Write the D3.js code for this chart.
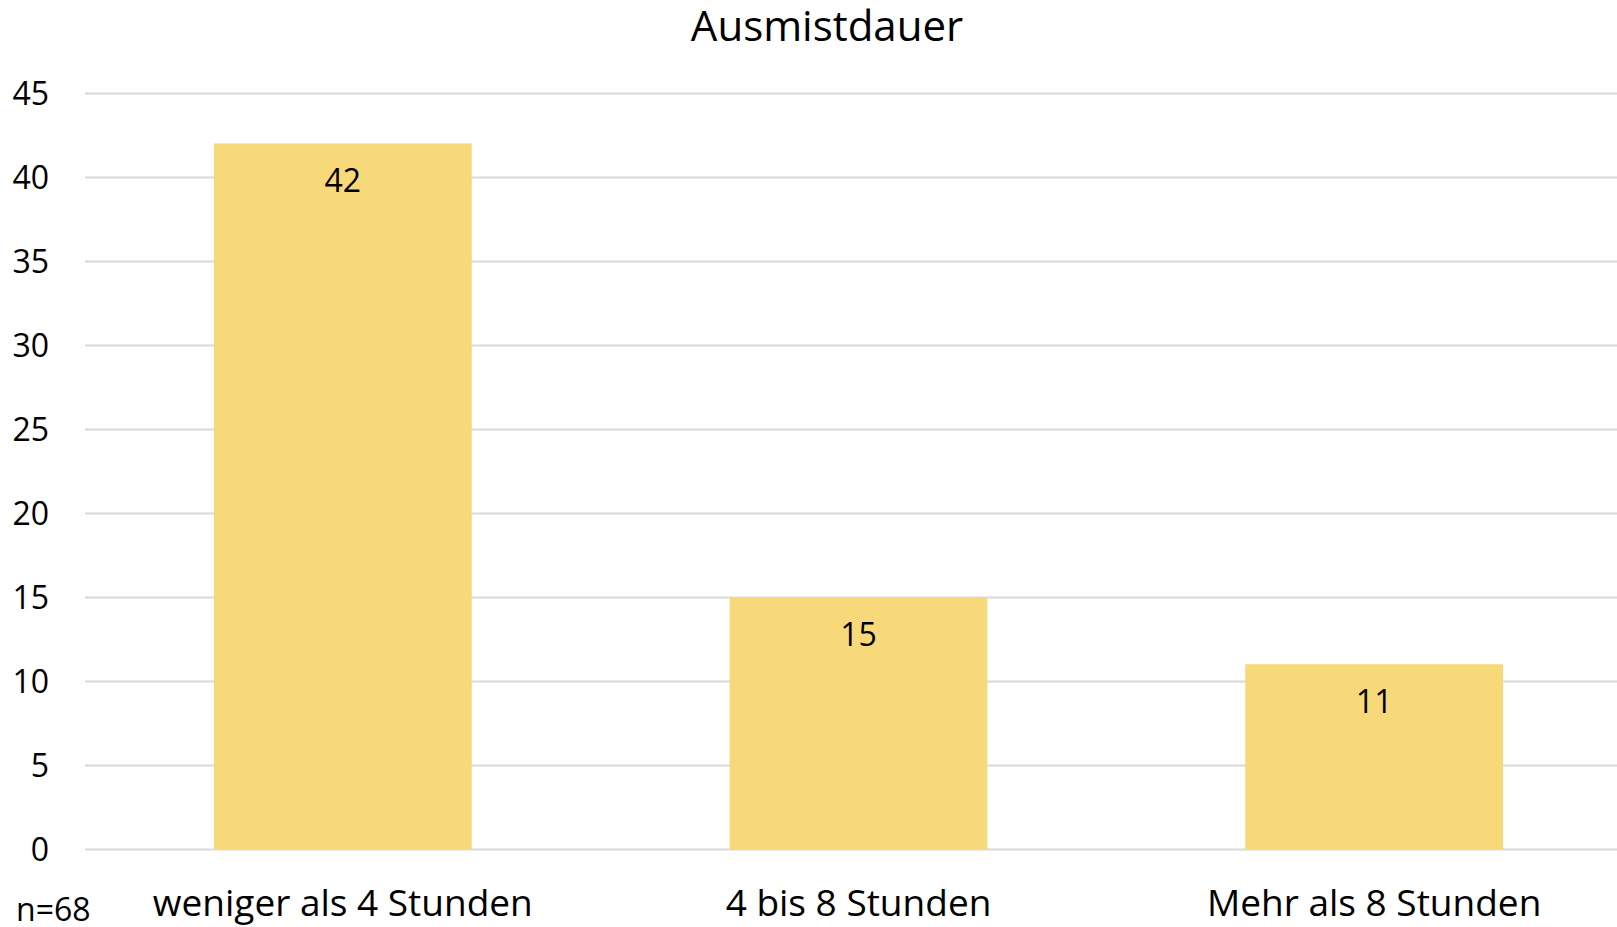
<!DOCTYPE html>
<html>
<head>
<meta charset="utf-8">
<script src="https://cdn.jsdelivr.net/npm/d3@7"></script>
<style>
	body { margin: 0; background: #fff; }
	svg text { font-family: 'Open Sans', sans-serif; fill: #000; }
	.grid line { stroke: #d9d9d9; stroke-width: 2; }
	.grid .domain { display: none; }
</style>
</head>
<body>
<div class="chart"></div>
<script>
const categories = ['weniger als 4 Stunden', '4 bis 8 Stunden', 'Mehr als 8 Stunden']
const values = [42, 15, 11]
const yTicks = [0, 5, 10, 15, 20, 25, 30, 35, 40, 45]
const title = 'Ausmistdauer'
const note = 'n=68'

const W = 1617
const H = 927
const MARGIN = { top: 93, bottom: 78, left: 85, right: -15 }

const svg = d3.select('.chart').append('svg')
	.attr('width', W)
	.attr('height', H)

let scale = {}
scale.x = d3.scaleBand()
	.domain(categories)
	.range([MARGIN.left, W - MARGIN.right])
	.paddingInner(0.5)
	.paddingOuter(0.25)

scale.y = d3.scaleLinear()
	.domain([0, 45])
	.range([H - MARGIN.bottom, MARGIN.top])

// gridlines
svg.append('g')
	.attr('class', 'grid')
	.attr('transform', `translate(${MARGIN.left},0)`)
	.call(d3.axisLeft(scale.y).tickValues(yTicks).tickSize(-(W - MARGIN.right - MARGIN.left)).tickFormat(''))

// y labels
svg.append('g').selectAll('text')
	.data(yTicks)
	.enter().append('text')
	.attr('x', 49)
	.attr('y', d => scale.y(d))
	.attr('dy', '0.36em')
	.attr('text-anchor', 'end')
	.style('font-size', '32px')
	.text(d => d)

// bars
svg.append('g').selectAll('rect')
	.data(values)
	.enter().append('rect')
	.attr('x', (d, i) => scale.x(categories[i]))
	.attr('y', d => scale.y(d))
	.attr('width', scale.x.bandwidth())
	.attr('height', d => scale.y(0) - scale.y(d))
	.attr('fill', '#f8d97a')

// value labels
svg.append('g').selectAll('text')
	.data(values)
	.enter().append('text')
	.attr('x', (d, i) => scale.x(categories[i]) + scale.x.bandwidth() / 2)
	.attr('y', d => scale.y(d) + 49)
	.attr('text-anchor', 'middle')
	.style('font-size', '32px')
	.text(d => d)

// category labels
svg.append('g').selectAll('text')
	.data(categories)
	.enter().append('text')
	.attr('x', d => scale.x(d) + scale.x.bandwidth() / 2)
	.attr('y', 916)
	.attr('text-anchor', 'middle')
	.style('font-size', '37px')
	.text(d => d)

svg.append('text')
	.attr('x', 827)
	.attr('y', 41)
	.attr('text-anchor', 'middle')
	.style('font-size', '42px')
	.text(title)

svg.append('text')
	.attr('x', 16)
	.attr('y', 921)
	.style('font-size', '32px')
	.text(note)
</script>
</body>
</html>
